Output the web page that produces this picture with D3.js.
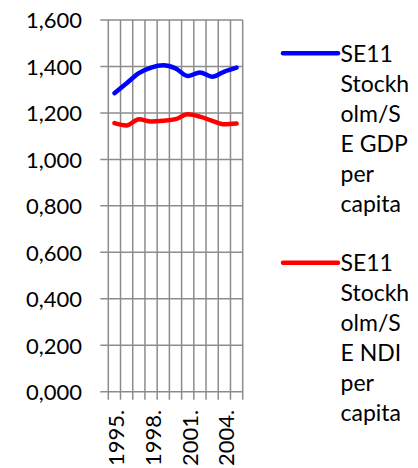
<!DOCTYPE html>
<html>
<head>
<meta charset="utf-8">
<script src="https://cdn.jsdelivr.net/npm/d3@7"></script>
<style>
  body { margin: 0; background: #fff; }
  svg text { font-family: Lato, "Open Sans", sans-serif; font-size: 22px; fill: #000; }
</style>
</head>
<body>
<div id="chart"></div>
<script>
// data
const years = [1995, 1996, 1997, 1998, 1999, 2000, 2001, 2002, 2003, 2004, 2005];
const gdp = [1.285, 1.328, 1.371, 1.395, 1.405, 1.392, 1.359, 1.374, 1.356, 1.378, 1.395];
const ndi = [1.156, 1.146, 1.173, 1.163, 1.166, 1.173, 1.194, 1.184, 1.166, 1.151, 1.154];
const yTicks = [0, 0.2, 0.4, 0.6, 0.8, 1.0, 1.2, 1.4, 1.6];
const xLabelYears = [1995, 1998, 2001, 2004];
const seriesNames = [
  ['SE11', 'Stockh', 'olm/S', 'E GDP', 'per', 'capita'],
  ['SE11', 'Stockh', 'olm/S', 'E NDI', 'per', 'capita']
];
const seriesColors = ['#0000ff', '#ff0000'];

const width = 418, height = 468;
const plotLeft = 108.3, plotRight = 242.7, plotTop = 20, plotBottom = 391.7;
const tickLen = 8;

const svg = d3.select('#chart').append('svg').attr('width', width).attr('height', height);

const x = d3.scaleBand().domain(years).range([plotLeft, plotRight]).padding(0);
const y = d3.scaleLinear().domain([0, 1.6]).range([plotBottom, plotTop]);

const loc = d3.formatLocale({ decimal: ',', thousands: ' ', grouping: [3], currency: ['', ''] });
const fmt = loc.format('.3f');

const gridColor = '#8c8c8c';

// horizontal gridlines + y tick marks
svg.append('g').selectAll('line').data(yTicks).join('line')
  .attr('x1', plotLeft - tickLen).attr('x2', plotRight)
  .attr('y1', d => y(d)).attr('y2', d => y(d))
  .attr('stroke', gridColor).attr('stroke-width', 1.5);

// vertical gridlines at category boundaries + x tick marks
const bounds = years.map(d => x(d)).concat([x(years[years.length - 1]) + x.bandwidth()]);
svg.append('g').selectAll('line').data(bounds).join('line')
  .attr('x1', d => d).attr('x2', d => d)
  .attr('y1', plotTop).attr('y2', plotBottom + tickLen)
  .attr('stroke', gridColor).attr('stroke-width', 1.5);

// y axis labels
const yAxis = d3.axisLeft(y).tickValues(yTicks).tickFormat(fmt).tickSize(0).tickPadding(0);
const gy = svg.append('g').attr('transform', `translate(82,0)`).call(yAxis);
gy.select('.domain').remove();
gy.selectAll('text').attr('font-family', null).attr('font-size', null).attr('dy', '0.36em');

// x axis labels
const xAxis = d3.axisBottom(x).tickValues(xLabelYears).tickFormat(d => d + '.').tickSize(0);
const gx = svg.append('g').attr('transform', `translate(0,${plotBottom})`).call(xAxis);
gx.select('.domain').remove();
gx.selectAll('text')
  .attr('font-family', null).attr('font-size', null)
  .attr('transform', 'rotate(-90)')
  .attr('text-anchor', 'end')
  .attr('x', -18).attr('y', 0).attr('dy', '0.45em');

// lines
const line = d3.line()
  .x((d, i) => x(years[i]) + x.bandwidth() / 2)
  .y(d => y(d))
  .curve(d3.curveMonotoneX);

[gdp, ndi].forEach((s, i) => {
  svg.append('path').datum(s)
    .attr('d', line)
    .attr('fill', 'none')
    .attr('stroke', seriesColors[i])
    .attr('stroke-width', 4.5)
    .attr('stroke-linecap', 'round')
    .attr('stroke-linejoin', 'round');
});

// legend (wrapped like the original)
const legendY = [53.3, 262.7];
const lineH = 30.1;
seriesNames.forEach((lines, i) => {
  const g = svg.append('g').attr('transform', `translate(0,${legendY[i]})`);
  g.append('line')
    .attr('x1', 283).attr('x2', 338).attr('y1', 0).attr('y2', 0)
    .attr('stroke', seriesColors[i]).attr('stroke-width', 4.5)
    .attr('stroke-linecap', 'round');
  g.selectAll('text').data(lines).join('text')
    .attr('x', 340.5)
    .attr('y', (d, j) => j * lineH)
    .attr('dy', '0.36em')
    .style('font-size', '23px')
    .text(d => d);
});
</script>
</body>
</html>
